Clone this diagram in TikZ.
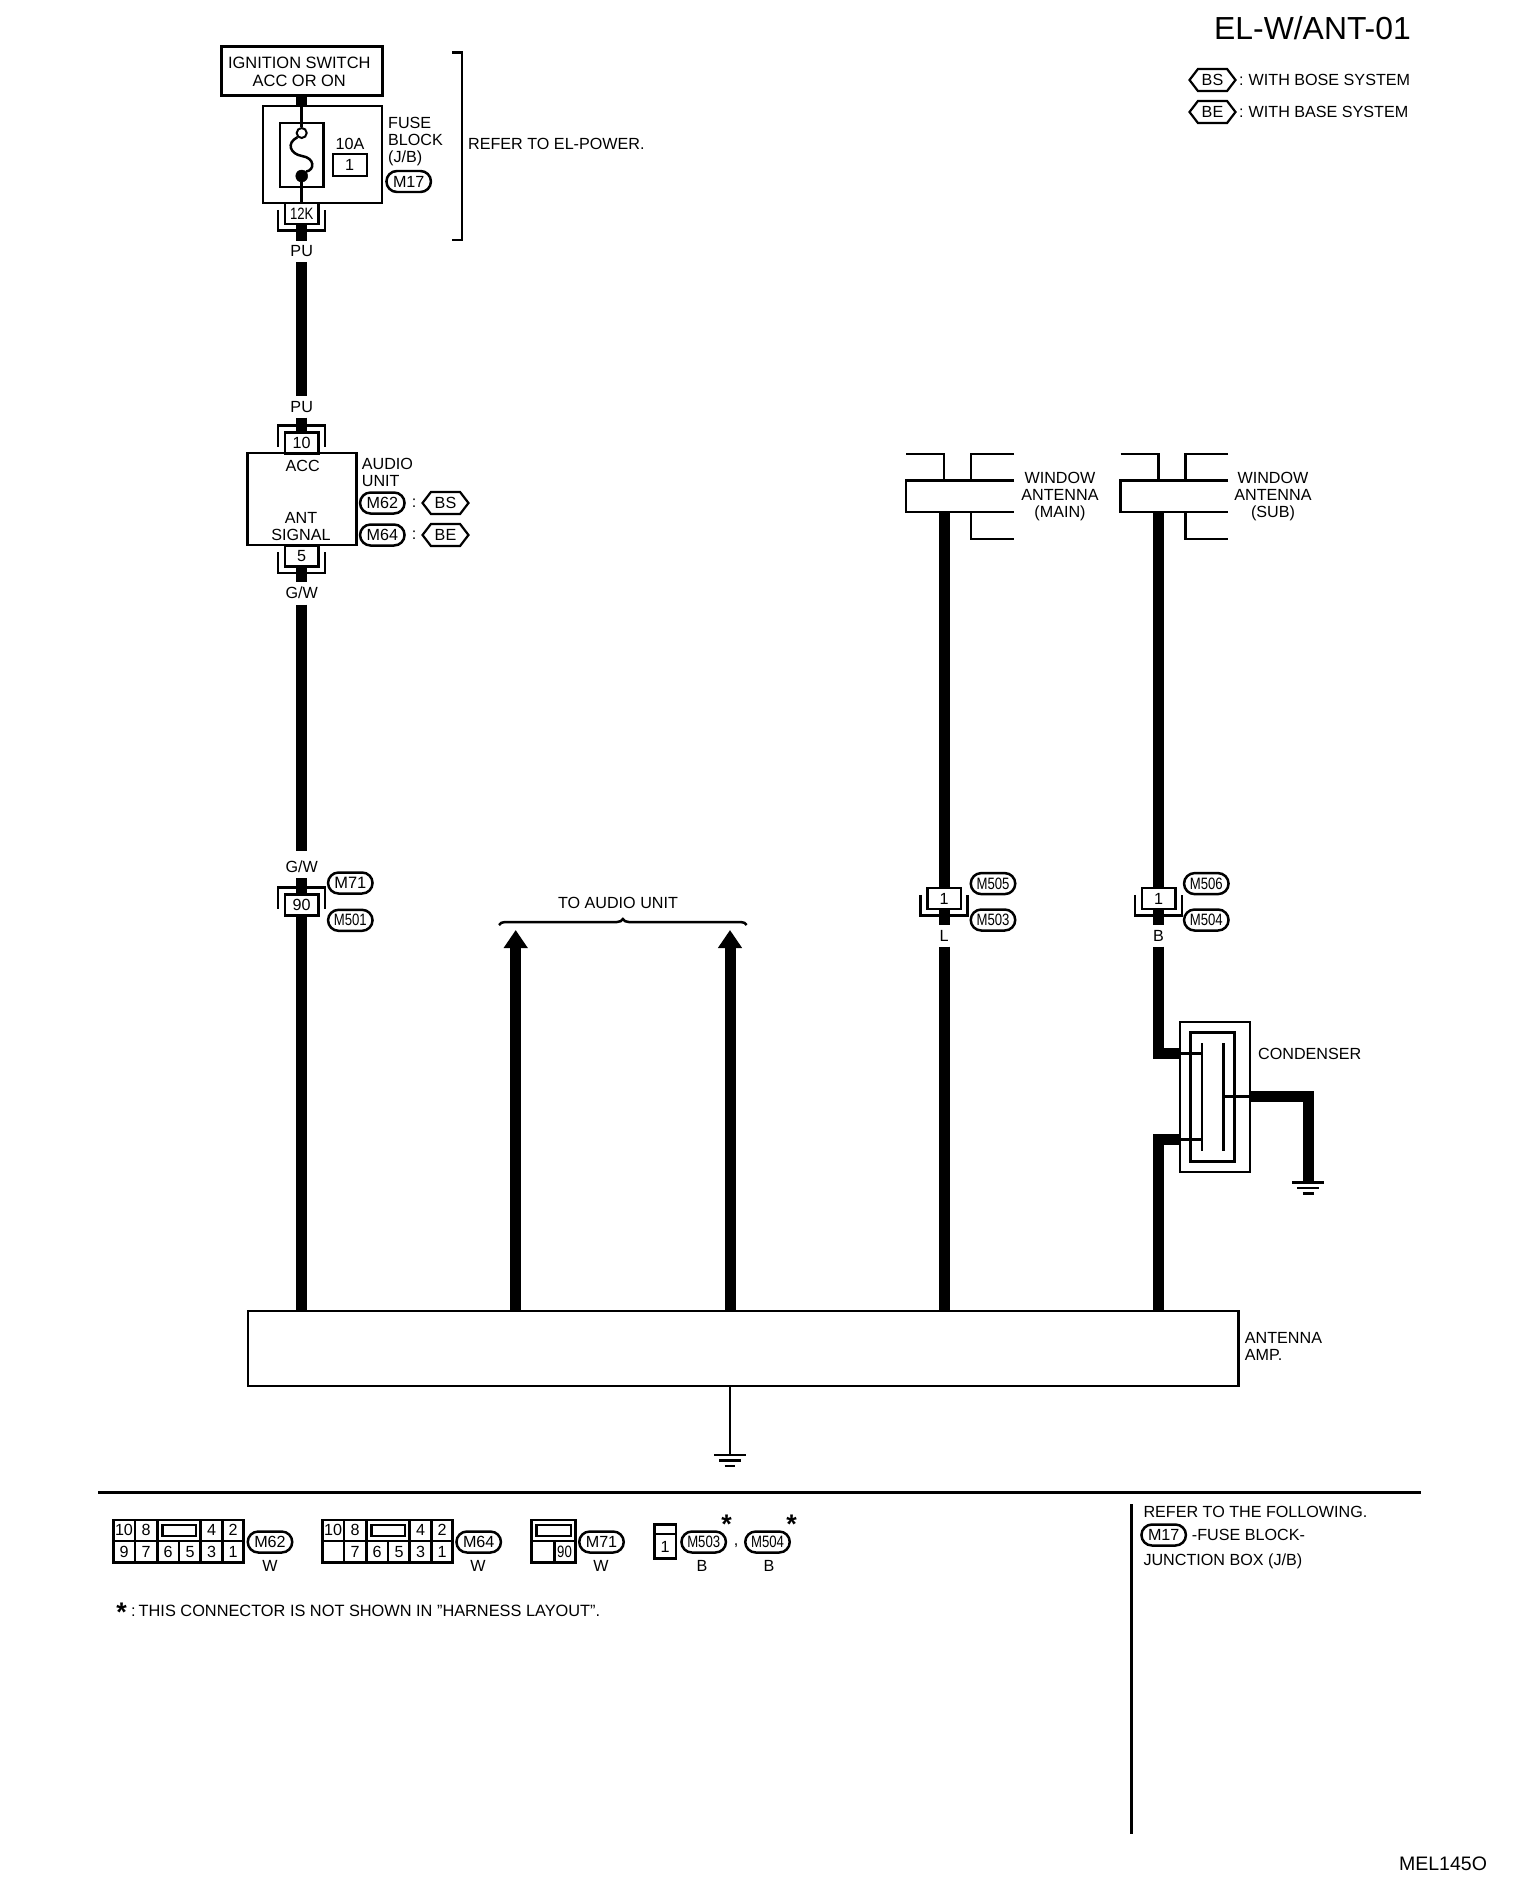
\documentclass[tikz,border=0pt]{standalone}
\usepackage{fontspec}
\setmainfont{Liberation Sans}
\newfontfamily\narrowfont[FakeStretch=0.8]{Liberation Sans}
\usetikzlibrary{arrows.meta,decorations.pathreplacing,shapes.misc,shapes.symbols}
\newcommand{\shellbelow}[1]{\draw[lead] ([shift={(-5.5pt,15.5pt)}]#1.south west) -- ([shift={(-5.5pt,-5.5pt)}]#1.south west) -- ([shift={(5.5pt,-5.5pt)}]#1.south east) -- ([shift={(5.5pt,15.5pt)}]#1.south east);}
\newcommand{\shellabove}[1]{\draw[lead] ([shift={(-5.5pt,-15.5pt)}]#1.north west) -- ([shift={(-5.5pt,6pt)}]#1.north west) -- ([shift={(5.5pt,6pt)}]#1.north east) -- ([shift={(5.5pt,-15.5pt)}]#1.north east);}
\newcommand{\groundbars}[1]{\draw[lead] ([xshift=-16pt]#1) -- ([xshift=16pt]#1);
\draw[lead] ([shift={(-11pt,-5.5pt)}]#1) -- ([shift={(11pt,-5.5pt)}]#1);
\draw[lead] ([shift={(-5.5pt,-11pt)}]#1) -- ([shift={(5.5pt,-11pt)}]#1);}
\begin{document}
\begin{tikzpicture}[x=1bp,y=-1bp]
\tikzstyle{txt}=[inner sep=0pt,font=\fontsize{16.2}{17.3}\selectfont]
\tikzstyle{note}=[txt,anchor=west,align=left]
\tikzstyle{unitbox}=[draw,line width=2.2pt,inner sep=0pt,txt]
\tikzstyle{pinbox}=[draw,line width=2.5pt,fill=white,inner sep=0pt,txt,minimum width=33.5bp,minimum height=21bp]
\tikzstyle{tag}=[draw,line width=2.5pt,rounded rectangle,inner sep=0pt,txt,minimum width=44.5bp,minimum height=21bp]
\tikzstyle{narrowtag}=[tag,font=\fontsize{16.5}{17}\narrowfont]
\tikzstyle{hextag}=[draw,line width=2.2pt,signal,signal to=east and west,signal pointer angle=105,inner sep=0pt,txt,minimum width=46bp,minimum height=22bp]
\tikzstyle{wirename}=[txt,minimum height=21bp]
\tikzstyle{wire}=[line width=11bp]
\tikzstyle{lead}=[line width=2.5pt]
\useasboundingbox (0,0) rectangle (1520,1878);

\node[txt,font=\fontsize{32}{33}\selectfont,anchor=east] (TITLE) at (1411,28) {EL-W/ANT-01};
\node[hextag] (BS0) at (1212.5,80) {BS};
\node[hextag] (BE0) at (1212.5,112) {BE};
\node[note] (LEGBS) at (1239,80) {:\hspace{5pt}WITH BOSE SYSTEM};
\node[note] (LEGBE) at (1239,112) {:\hspace{5pt}WITH BASE SYSTEM};

\node[unitbox,line width=3pt,minimum width=161bp,minimum height=49bp] (IGN) at (301.7,71.3) {};
\node[txt,font=\fontsize{16.5}{17.3}\selectfont,align=center] (IGNTXT) at (299.3,71.8) {IGNITION SWITCH\\ACC OR ON};
\node[unitbox,minimum width=119bp,minimum height=97bp] (FUSEBLK) at (322.5,154.5) {};
\node[unitbox,minimum width=43.5bp,minimum height=64bp] (FUSECASE) at (301.7,154.7) {};
\node[circle,draw,line width=2pt,fill=white,minimum size=10bp,inner sep=0pt] (FOPEN) at (301.7,133) {};
\node[circle,draw,fill=black,minimum size=12bp,inner sep=0pt] (FSHUT) at (301.7,176) {};
\node[txt] (AMP10) at (350,144) {10A};
\node[pinbox,fill=none,line width=2.2pt,minimum width=34bp,minimum height=22bp] (FNUM) at (349.7,165) {1};
\node[note] (FUSETXT) at (388,141.7) {FUSE\\BLOCK\\(J/B)};
\node[tag] (M17A) at (408.7,181.5) {M17};
\node[note] (REFPOWER) at (468,144) {REFER TO EL-POWER.};
\node[pinbox,font=\fontsize{16.5}{17}\narrowfont] (C12) at (301.7,213.5) {12K};
\node[wirename] (PU1) at (301.7,251.5) {PU};
\node[wirename] (PU2) at (301.7,407) {PU};
\node[pinbox] (C10) at (301.7,443) {10};
\node[unitbox,line width=2.5pt,minimum width=109bp,minimum height=92bp] (AUDIO) at (302.2,499) {};
\node[txt] (ACC) at (302.7,466) {ACC};
\node[txt,align=center] (ANTSIG) at (301,526.5) {ANT\\SIGNAL};
\node[note] (AUDIOTXT) at (361.7,472.7) {AUDIO\\UNIT};
\node[tag] (M62A) at (382.3,503) {M62};
\node[tag] (M64A) at (382.3,535) {M64};
\node[txt] (COL1) at (414,503) {:};
\node[txt] (COL2) at (414,535) {:};
\node[hextag] (BS1) at (445.5,503) {BS};
\node[hextag] (BE1) at (445.5,535) {BE};
\node[pinbox] (C5) at (301.7,556) {5};
\node[wirename] (GW1) at (301.7,593) {G/W};
\node[wirename] (GW2) at (301.7,866.7) {G/W};
\node[pinbox] (C90) at (301.7,905) {90};
\node[narrowtag,font=\fontsize{16.5}{17}\selectfont] (M71A) at (350.3,883) {M71};
\node[narrowtag] (M501) at (350.3,920.3) {M501};

\node[unitbox,line width=2.5pt,minimum width=990.5bp,minimum height=75bp] (AMP) at (743.2,1348.3) {};
\node[note] (AMPTXT) at (1244.7,1346.5) {ANTENNA\\AMP.};
\coordinate (GND1) at (730,1455);
\draw[lead] (AMP.south -| GND1) -- (GND1);
\groundbars{GND1}

\draw[wire] (IGN.south) -- (FUSEBLK.north -| IGN);
\draw[lead] (FUSEBLK.north -| IGN) -- (FOPEN.north);
\draw[lead] (FSHUT.south) -- (C12.north);
\draw[lead] (FOPEN.south west) .. controls (286,143) and (290,154) .. (302,156) .. controls (315,158) and (315,170) .. (FSHUT.north east);
\draw[wire] (C12.south) -- (PU1.north);
\draw[wire] (PU1.south) -- (PU2.north);
\draw[wire] (PU2.south) -- (C10.north);
\draw[wire] (C5.south) -- (GW1.north);
\draw[wire] ([yshift=-1pt]GW1.south) -- ([yshift=5pt]GW2.north);
\draw[wire] ([yshift=-1pt]GW2.south) -- (C90.north);
\draw[wire] (C90.south) -- (AMP.north -| C90);
\shellbelow{C12}
\shellabove{C10}
\shellbelow{C5}
\shellabove{C90}
\draw[lead] (452,52.7) -- (462,52.7) -- (462,240) -- (452,240);

\foreach \ax/\ar/\aname in {906/108/main,1120.5/107.5/sub} {
\begin{scope}[shift={(\ax,0)}]
\draw[lead] (0,454) -- (38,454) -- (38,480.7);
\draw[lead] (\ar,454) -- (65,454) -- (65,480.7);
\draw[lead] (\ar,480.7) -- (0,480.7) -- (0,512) -- (\ar,512);
\draw[lead] (65,512) -- (65,539) -- (\ar,539);
\coordinate (ANT\aname) at (38,512);
\end{scope}
}
\node[txt,align=center] (WINMAIN) at (1060,496.5) {WINDOW\\ANTENNA\\(MAIN)};
\node[txt,align=center] (WINSUB) at (1273,496.5) {WINDOW\\ANTENNA\\(SUB)};

\node[pinbox] (C1M) at (944,898.5) {1};
\node[pinbox] (C1S) at (1158.5,898.5) {1};
\node[wirename] (WL) at (944,936) {L};
\node[wirename] (WB) at (1158.5,936) {B};
\node[narrowtag] (M505) at (993,883.6) {M505};
\node[narrowtag] (M503A) at (993,920) {M503};
\node[narrowtag] (M506) at (1206.3,883.6) {M506};
\node[narrowtag] (M504A) at (1206.3,920) {M504};
\draw[wire] (ANTmain) -- (C1M.north);
\draw[wire] (ANTsub) -- (C1S.north);
\draw[wire] (C1M.south) -- (WL.north);
\draw[wire] (C1S.south) -- (WB.north);
\draw[wire] (WL.south) -- (AMP.north -| WL);
\shellbelow{C1M}
\shellbelow{C1S}

\node[unitbox,minimum width=70bp,minimum height=150bp] (CONDOUT) at (1215.2,1096.8) {};
\node[unitbox,line width=3pt,minimum width=43.5bp,minimum height=128.5bp] (CONDIN) at (1212.5,1097) {};
\node[note] (CONDTXT) at (1258,1053.5) {CONDENSER};
\coordinate (PLA) at (1202,1053.3);
\coordinate (PLB) at (1202,1139.3);
\coordinate (PLC) at (1223.7,1096.7);
\coordinate (GND2) at (1308.3,1182.7);
\draw[lead] (1202,1043.3) -- (1202,1150.7);
\draw[line width=3pt] (1223.7,1043.3) -- (1223.7,1150.7);
\draw[lead] (CONDOUT.west |- PLA) -- (PLA);
\draw[line width=3pt] (CONDOUT.west |- PLB) -- (PLB);
\draw[lead] (CONDOUT.east |- PLC) -- (PLC);
\draw[wire] (WB.south) |- (CONDOUT.west |- PLA);
\draw[wire] (AMP.north -| WB) |- (CONDOUT.west |- PLB);
\draw[wire] (CONDOUT.east |- PLC) -| (GND2);
\groundbars{GND2}

\coordinate (HEADA) at (515.7,930);
\coordinate (HEADB) at (730,930);
\draw[wire,-{Triangle[length=18bp,width=23bp]}] (AMP.north -| HEADA) -- (HEADA);
\draw[wire,-{Triangle[length=18bp,width=23bp]}] (AMP.north -| HEADB) -- (HEADB);
\draw[lead,decorate,decoration={brace,amplitude=6pt}] (499,925) -- (746.7,925);
\node[txt] (TOAUDIO) at (618,903) {TO AUDIO UNIT};

\draw[line width=3pt] (98,1492.5) -- (1420.8,1492.5);
\draw[line width=3pt] (1131.7,1504) -- (1131.7,1834);

\foreach \tx/\tname in {0/A,209/B} {
\begin{scope}[shift={(\tx,0)}]
\draw[lead] (113.3,1520) rectangle (243.3,1562.7);
\draw[lead] (113.3,1541) -- (243.3,1541);
\foreach \cx in {135,157.3,200.7,222.3} \draw[lead] (\cx,1520) -- (\cx,1562.7);
\draw[lead] (179,1541) -- (179,1562.7);
\draw[lead] (162.3,1525) rectangle (196,1536);
\foreach \cx/\cy/\ct in {124/1530/10,146/1530/8,211.5/1530/4,233/1530/2,146/1552/7,168/1552/6,190/1552/5,211.5/1552/3,233/1552/1}
\node[txt] (PIN\tname\ct) at (\cx,\cy) {\ct};
\node[txt] (W\tname) at (\ifnum\tx=0 270\else 269\fi,1566) {W};
\end{scope}
}
\node[txt] (PINA9) at (124,1552) {9};
\node[tag] (M62B) at (270,1542) {M62};
\node[tag] (M64B) at (478.7,1542) {M64};

\draw[lead] (531.7,1520) rectangle (575.7,1562.7);
\draw[lead] (531.7,1541) -- (575.7,1541);
\draw[lead] (554.3,1541) -- (554.3,1562.7);
\draw[lead] (536.7,1525) rectangle (571,1536);
\node[txt,font=\fontsize{16.5}{17}\narrowfont] (PIN90) at (564.5,1552) {90};
\node[tag] (M71B) at (601.5,1542) {M71};
\node[txt] (WC) at (601,1566) {W};

\draw[lead] (654.3,1524.3) rectangle (676,1558.3);
\draw[lead] (654.3,1534) -- (676,1534);
\node[txt] (PIN1) at (665,1547) {1};
\node[narrowtag] (M503B) at (703.7,1542) {M503};
\node[txt] (COMMA) at (736,1546) {,};
\node[narrowtag] (M504B) at (767.5,1542) {M504};
\node[txt] (BA) at (702,1566) {B};
\node[txt] (BB) at (769,1566) {B};
\node[font=\fontsize{27}{27}\selectfont\bfseries,inner sep=0pt] (STARA) at (726.7,1524) {*};
\node[font=\fontsize{27}{27}\selectfont\bfseries,inner sep=0pt] (STARB) at (791.7,1524) {*};
\node[font=\fontsize{27}{27}\selectfont\bfseries,inner sep=0pt] (STARC) at (121.7,1612.5) {*};
\node[note,font=\fontsize{16.4}{17}\selectfont] (FOOT) at (131,1610.5) {:\hspace{3pt}THIS CONNECTOR IS NOT SHOWN IN "HARNESS LAYOUT".};

\node[note] (REFFOLLOW) at (1143.3,1511.7) {REFER TO THE FOLLOWING.};
\node[tag] (M17B) at (1163.7,1535) {M17};
\node[note] (FUSEJB) at (1191.7,1535) {-FUSE BLOCK-};
\node[note] (JBOX) at (1143.3,1561.7) {JUNCTION BOX (J/B)};
\node[txt,font=\fontsize{19.6}{20}\selectfont] (CODE) at (1443,1864) {MEL145O};
\end{tikzpicture}
\end{document}
